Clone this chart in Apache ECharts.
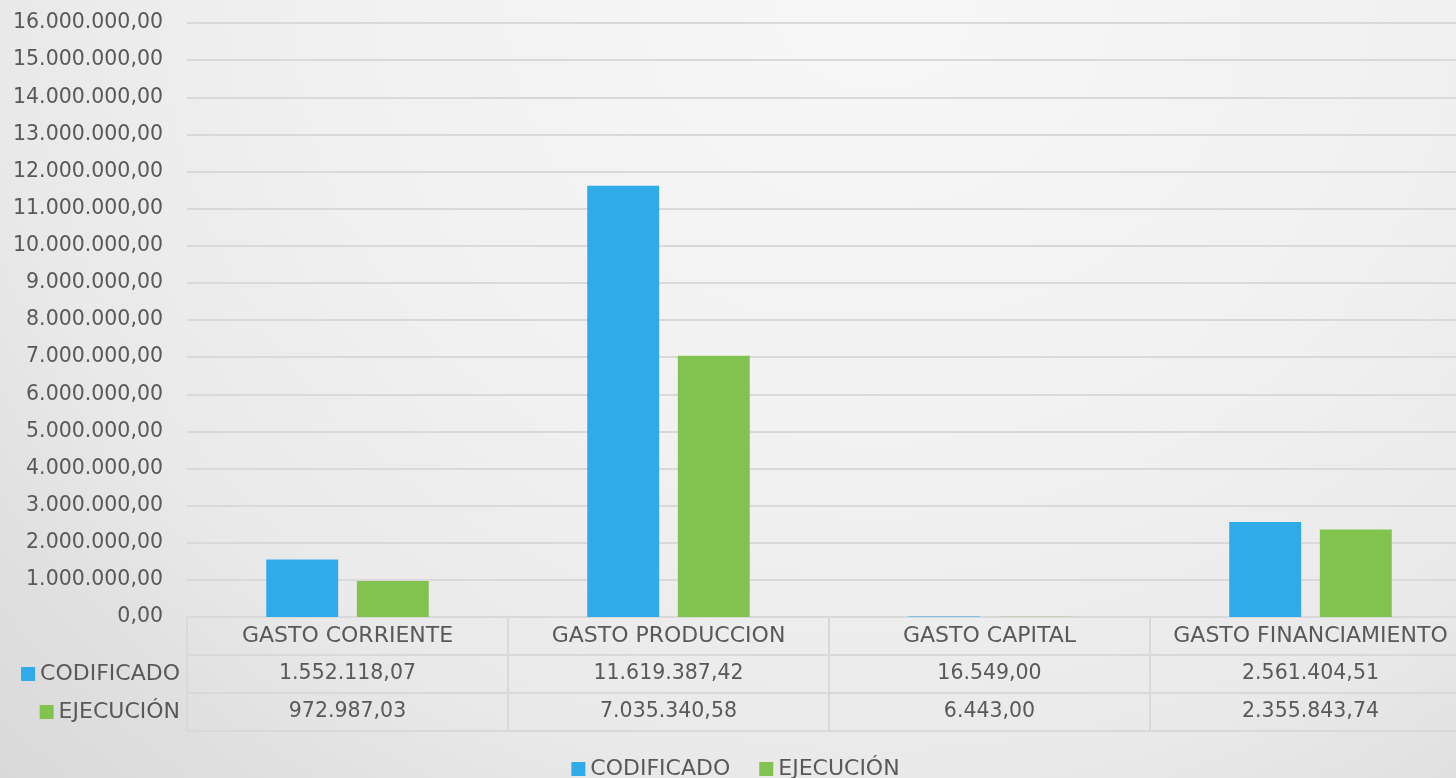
<!DOCTYPE html>
<html>
<head>
<meta charset="utf-8">
<script src="https://cdn.jsdelivr.net/npm/echarts@6/dist/echarts.min.js"></script>
<style>
html,body{margin:0;padding:0;width:1456px;height:778px;overflow:hidden;}
body{background:radial-gradient(ellipse farthest-corner at 60% 0%, #f7f7f7 0%, #f1f1f1 43%, #e9e9e9 71%, #e0e0e0 85%, #d9d9d9 100%);}
#c{width:1471px;height:778px;}
</style>
</head>
<body>
<div id="c"></div>
<script>
const categories = ['GASTO CORRIENTE', 'GASTO PRODUCCION', 'GASTO CAPITAL', 'GASTO FINANCIAMIENTO'];
const seriesNames = ['CODIFICADO', 'EJECUCIÓN'];
const codificado = [1552118.07, 11619387.42, 16549.00, 2561404.51];
const ejecucion = [972987.03, 7035340.58, 6443.00, 2355843.74];
const yMin = 0, yMax = 16000000, yStep = 1000000;

const FONT = '"DejaVu Sans", sans-serif';
const FS = 22;
const FN = 20.5;
const TXT = '#595959';
const LINE = '#d9d9d9';
const BLUE = '#2FABEA';
const GREEN = '#82C34F';

function fmt(v) {
  const neg = v < 0; v = Math.abs(v);
  const parts = v.toFixed(2).split('.');
  const intp = parts[0].replace(/\B(?=(\d{3})+(?!\d))/g, '.');
  return (neg ? '-' : '') + intp + ',' + parts[1];
}

const tableCells = [];
categories.forEach((c, i) => {
  tableCells.push({value: [i, 0, c], label: {fontSize: FS}});
  tableCells.push({value: [i, 1, fmt(codificado[i])], label: {fontSize: FN}});
  tableCells.push({value: [i, 2, fmt(ejecucion[i])], label: {fontSize: FN}});
});

const chart = echarts.init(document.getElementById('c'));
chart.setOption({
  backgroundColor: 'transparent',
  textStyle: {fontFamily: FONT},
  animation: false,
  legend: {
    data: seriesNames,
    top: 753, left: 'center',
    icon: 'rect', itemWidth: 14, itemHeight: 14, itemGap: 29,
    textStyle: {fontFamily: FONT, fontSize: FS, color: TXT}
  },
  grid: [
    {left: 187, top: 23, right: 0, height: 594},
    {left: 187, top: 617, right: 0, height: 114}
  ],
  xAxis: [
    {
      gridIndex: 0, type: 'category', data: categories,
      axisLine: {show: true, lineStyle: {color: LINE, width: 2}},
      axisTick: {show: false}, axisLabel: {show: false}
    },
    {
      gridIndex: 1, type: 'category', data: categories,
      axisLine: {show: false}, axisTick: {show: false}, axisLabel: {show: false},
      splitLine: {show: true, lineStyle: {color: LINE, width: 2}}
    }
  ],
  yAxis: [
    {
      gridIndex: 0, type: 'value', min: yMin, max: yMax, interval: yStep,
      axisLine: {show: false}, axisTick: {show: false},
      splitLine: {lineStyle: {color: LINE, width: 2}},
      axisLabel: {margin: 24, fontSize: FN, color: TXT, fontFamily: FONT, formatter: v => fmt(v)}
    },
    {
      gridIndex: 1, type: 'category', inverse: true,
      data: ['', seriesNames[0], seriesNames[1]],
      axisLine: {show: false}, axisTick: {show: false},
      splitLine: {show: true, lineStyle: {color: LINE, width: 2}},
      axisLabel: {
        margin: 7, fontSize: FS, color: TXT, fontFamily: FONT,
        formatter: (v, i) => i === 1 ? '{b|}{t|' + v + '}' : (i === 2 ? '{g|}{t|' + v + '}' : ''),
        rich: {
          b: {backgroundColor: BLUE, width: 14, height: 14},
          g: {backgroundColor: GREEN, width: 14, height: 14},
          t: {fontSize: FS, color: TXT, fontFamily: FONT, padding: [0, 0, 0, 5]}
        }
      }
    }
  ],
  series: [
    {
      name: seriesNames[0], type: 'bar', xAxisIndex: 0, yAxisIndex: 0,
      data: codificado, barWidth: '22.4%', barGap: '26%',
      itemStyle: {color: BLUE}
    },
    {
      name: seriesNames[1], type: 'bar', xAxisIndex: 0, yAxisIndex: 0,
      data: ejecucion, barWidth: '22.4%', barGap: '26%',
      itemStyle: {color: GREEN}
    },
    {
      type: 'scatter', xAxisIndex: 1, yAxisIndex: 1, symbolSize: 0, silent: true,
      itemStyle: {opacity: 1},
      data: tableCells,
      label: {
        show: true, position: 'inside', color: TXT, fontFamily: FONT,
        formatter: p => p.value[2]
      }
    }
  ]
});
</script>
</body>
</html>
